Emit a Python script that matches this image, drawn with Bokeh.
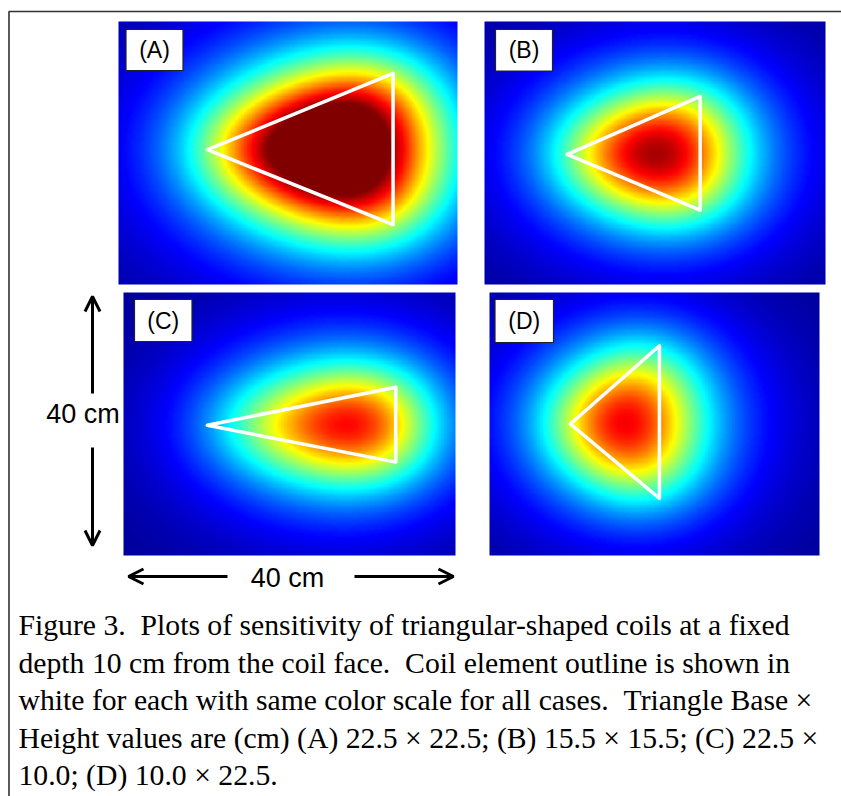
import numpy as np
from bokeh.plotting import figure
from bokeh.models import Range1d, LinearColorMapper, Arrow, OpenHead
from bokeh.core.properties import value
from bokeh.embed import file_html
from bokeh.resources import INLINE

# ---------------- data ----------------
panel_labels = ["(A)", "(B)", "(C)", "(D)"]
base_cm = [22.5, 15.5, 22.5, 10.0]      # caption values (horizontal extent)
height_cm = [22.5, 15.5, 10.0, 22.5]    # caption values (vertical extent)
# triangle vertices in cm, field of view -20..20 cm in x and y
tri_x = [[-9.5, 12.4, 12.4], [-10.3, 5.3, 5.3], [-9.9, 12.8, 12.8], [-10.2, 0.6, 0.6]]
tri_y = [[0.5, 12.1, -10.9], [-0.2, 8.6, -8.7], [-0.2, 5.6, -5.8], [0.0, 11.9, -11.3]]
depth_cm = 10.0
fov_cm = [-20.0, 20.0]
scale_label = "40 cm"
caption_lines = [
    "Figure 3. \u00a0Plots of sensitivity of triangular-shaped coils at a fixed",
    "depth 10 cm from the coil face. \u00a0Coil element outline is shown in",
    "white for each with same color scale for all cases. \u00a0Triangle Base \u00d7",
    "Height values are (cm) (A) 22.5 \u00d7 22.5; (B) 15.5 \u00d7 15.5; (C) 22.5 \u00d7",
    "10.0; (D) 10.0 \u00d7 22.5.",
]

# ---------------- layout (page pixels) ----------------
panel_px = [(118, 21, 457, 284), (484, 21, 825, 284), (123, 292, 455, 555), (489, 292, 819, 555)]
label_box_px = [(125.5, 29, 182.5, 70), (495, 29, 552, 70.5), (134, 299, 191.5, 341), (494.5, 299, 553, 342)]
caption_baselines = [635, 672.5, 710, 747.5, 785]
caption_size = 29.7


def Y(py):
    return -py


def jet(n=256):
    out = []
    for i in range(n):
        t = i / (n - 1)
        r = min(max(1.5 - abs(4 * t - 3), 0), 1)
        g = min(max(1.5 - abs(4 * t - 2), 0), 1)
        b = min(max(1.5 - abs(4 * t - 1), 0), 1)
        out.append("#%02x%02x%02x" % (int(r * 255 + .5), int(g * 255 + .5), int(b * 255 + .5)))
    return out


def sensitivity(vx, vy, n=220):
    # Biot-Savart field magnitude of a triangular loop, evaluated at the given depth
    c = (np.arange(n) + 0.5) / n * (fov_cm[1] - fov_cm[0]) + fov_cm[0]
    X, Yg = np.meshgrid(c, c)
    P = np.stack([X, Yg, np.full_like(X, -depth_cm)], -1)
    B = np.zeros_like(P)
    for k in range(3):
        a = np.array([vx[k], vy[k], 0.0])
        b = np.array([vx[(k + 1) % 3], vy[(k + 1) % 3], 0.0])
        r1 = P - a
        r2 = P - b
        n1 = np.linalg.norm(r1, axis=-1)
        n2 = np.linalg.norm(r2, axis=-1)
        dot = (r1 * r2).sum(-1)
        fac = (n1 + n2) / (n1 * n2 * (n1 * n2 + dot))
        B += np.cross(r1, r2) * fac[..., None]
    return np.linalg.norm(B, axis=-1)


fields = [sensitivity(tx, ty) for tx, ty in zip(tri_x, tri_y)]
vmax = fields[1].max() / 0.96
mapper = LinearColorMapper(palette=jet(), low=0.0, high=vmax)

p = figure(width=841, height=796, x_range=Range1d(0, 841), y_range=Range1d(-796, 0),
           output_backend="svg", toolbar_location=None, min_border=0,
           x_axis_location=None, y_axis_location=None)
p.grid.visible = False
p.outline_line_color = None
p.background_fill_color = "white"

# outer frame (top and left edges visible)
p.line(x=[8.5, 8.5, 841], y=[Y(796), Y(11), Y(11)], line_color="#333333", line_width=1.6)

for i in range(4):
    l, t, r, b = panel_px[i]
    sub = p.subplot(x_source=Range1d(fov_cm[0], fov_cm[1]), y_source=Range1d(fov_cm[0], fov_cm[1]),
                    x_target=Range1d(l, r), y_target=Range1d(Y(b), Y(t)))
    sub.image(image=[fields[i]], x=fov_cm[0], y=fov_cm[0], dw=fov_cm[1] - fov_cm[0],
              dh=fov_cm[1] - fov_cm[0], color_mapper=mapper)
    sub.patch(x=tri_x[i], y=tri_y[i], fill_alpha=0, line_color="white", line_width=3.5,
              line_join="round")
    bl, bt, br, bb = label_box_px[i]
    p.quad(left=[bl], right=[br], top=[Y(bt)], bottom=[Y(bb)], fill_color="white",
           line_color="#222222", line_width=1.2)
    p.text(x=[(bl + br) / 2], y=[Y((bt + bb) / 2)], text=[panel_labels[i]],
           text_font=value("Liberation Sans"), text_font_size="23px", text_color="black",
           text_align="center", text_baseline="middle")

# scale arrows
head = dict(size=15, line_width=3, line_color="black")
p.add_layout(Arrow(end=OpenHead(**head), x_start=92, y_start=Y(393), x_end=92, y_end=Y(296),
                   line_width=3, line_color="black"))
p.add_layout(Arrow(end=OpenHead(**head), x_start=92, y_start=Y(447), x_end=92, y_end=Y(545),
                   line_width=3, line_color="black"))
p.add_layout(Arrow(end=OpenHead(**head), x_start=227, y_start=Y(576), x_end=128, y_end=Y(576),
                   line_width=3, line_color="black"))
p.add_layout(Arrow(end=OpenHead(**head), x_start=354, y_start=Y(576), x_end=453, y_end=Y(576),
                   line_width=3, line_color="black"))
p.text(x=[82.5, 287], y=[Y(413), Y(577)], text=[scale_label, scale_label],
       text_font=value("Liberation Sans"), text_font_size="27px", text_color="black",
       text_align="center", text_baseline="middle")

# caption (vertically centred on the middle of the em box, ~0.35 em above the baseline)
p.text(x=[18] * len(caption_lines), y=[Y(v - 0.35 * caption_size) for v in caption_baselines],
       text=caption_lines, text_font=value("Liberation Serif"),
       text_font_size="%.1fpx" % caption_size, text_color="black",
       text_align="left", text_baseline="middle")

open("out.html", "w").write(file_html(p, INLINE))
